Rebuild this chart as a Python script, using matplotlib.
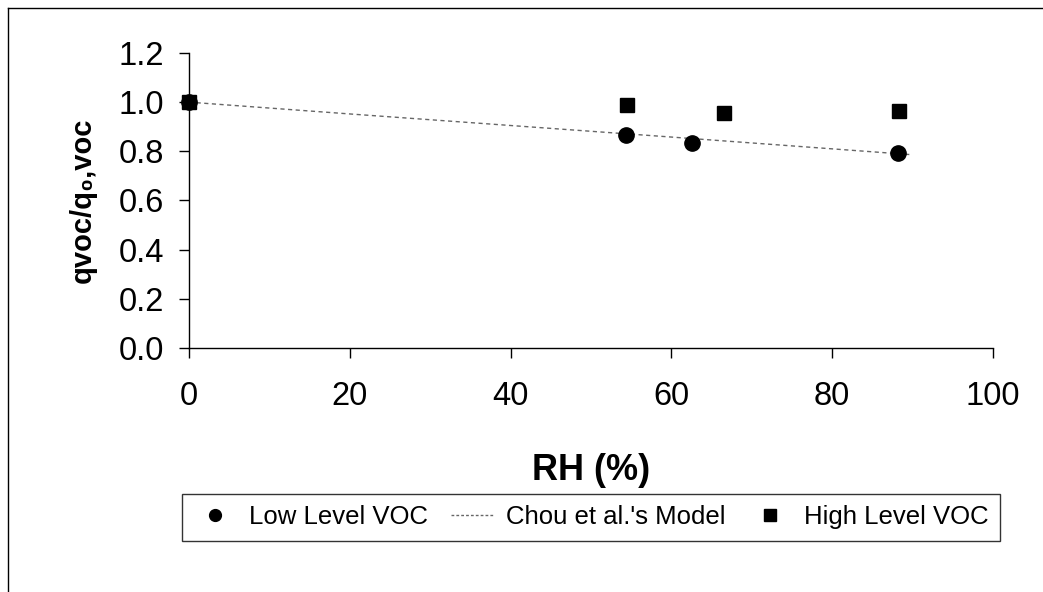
import matplotlib
matplotlib.use("Agg")
import matplotlib.pyplot as plt
from matplotlib.lines import Line2D

plt.rcParams['font.family'] = ['Liberation Sans', 'DejaVu Sans']

low_rh = [0.0, 54.4, 62.5, 88.2]
low_q = [1.0, 0.866, 0.835, 0.795]
high_rh = [0.0, 54.5, 66.5, 88.3]
high_q = [1.0, 0.99, 0.957, 0.965]
# Chou et al.'s model curve
model_rh = [0, 20, 40, 60, 80, 90]
model_q = [1.0, 0.952, 0.905, 0.858, 0.81, 0.786]

xticks = [0, 20, 40, 60, 80, 100]
yticks = [0.0, 0.2, 0.4, 0.6, 0.8, 1.0, 1.2]

fig = plt.figure(figsize=(10.43, 5.92), dpi=100)
ax = fig.add_axes([0.1812, 0.4122, 0.7709, 0.4983])

ax.plot(model_rh, model_q, color="#666666", lw=1.0, ls=(0, (3, 2.5)), label="Chou et al.'s Model", zorder=2)
ax.plot(low_rh, low_q, "o", color="black", ms=11, ls="none", label="Low Level VOC", zorder=3)
ax.plot(high_rh, high_q, "s", color="black", ms=10.5, ls="none", label="High Level VOC", zorder=4)

ax.set_xlim(0, 100)
ax.set_ylim(0, 1.2)
ax.set_xticks(xticks)
ax.set_xticklabels([str(v) for v in xticks])
ax.set_yticks(yticks)
ax.set_yticklabels([f"{v:.1f}" for v in yticks])
for s in ("top", "right"):
    ax.spines[s].set_visible(False)
for s in ("left", "bottom"):
    ax.spines[s].set_linewidth(1.0)
ax.tick_params(axis="both", direction="out", length=7, width=1.0, labelsize=23.5)
ax.tick_params(axis="y", pad=11)
ax.tick_params(axis="x", pad=17)
for ln in ax.lines:
    ln.set_clip_on(False)

ax.set_xlabel("RH (%)", fontsize=26, fontweight="bold", labelpad=29)
ax.set_ylabel("qvoc/q\u2080,voc", fontsize=21, fontweight="bold", labelpad=16)

handles = [
    Line2D([], [], marker="o", color="black", ls="none", ms=8.5),
    Line2D([], [], color="#666666", lw=1.0, ls=(0, (2, 1.5))),
    Line2D([], [], marker="s", color="black", ls="none", ms=8),
]
labels = ["Low Level VOC", "Chou et al.'s Model", "High Level VOC"]
leg = fig.legend(handles, labels, loc="center", bbox_to_anchor=(0.5665, 0.126), ncol=3,
                 fontsize=18.5, frameon=True, fancybox=False, edgecolor="black",
                 handlelength=1.7, handletextpad=0.45, columnspacing=0.9,
                 borderpad=0.45, borderaxespad=0)
leg.get_frame().set_linewidth(1.0)

# outer frame of the scanned page figure
fig.add_artist(Line2D([0.0077, 0.0077], [0.0, 0.9865], color="black", lw=1.0, transform=fig.transFigure))
fig.add_artist(Line2D([0.0077, 1.0], [0.9865, 0.9865], color="black", lw=1.0, transform=fig.transFigure))

fig.savefig("out.png", dpi=100, facecolor="white")
